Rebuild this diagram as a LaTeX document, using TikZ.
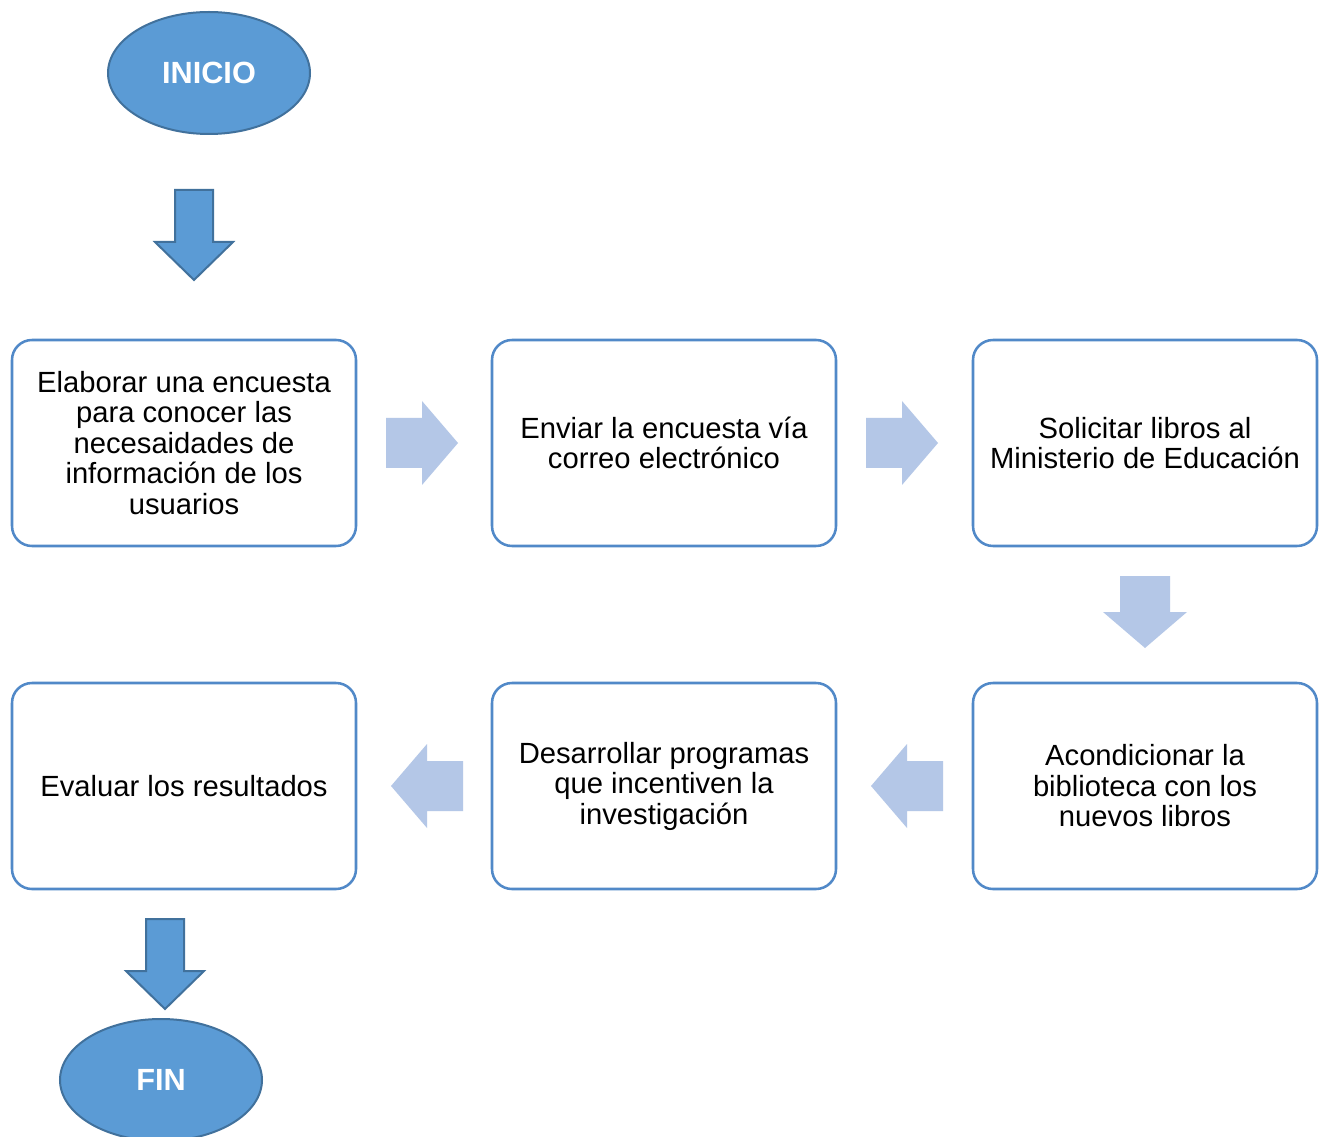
\documentclass[tikz,border=0pt]{standalone}
\usepackage{fontspec}
\setmainfont{Liberation Sans}
\usetikzlibrary{shapes.geometric}
\definecolor{boxblue}{HTML}{5189C8}
\definecolor{lightarr}{HTML}{B4C7E7}
\definecolor{darkfill}{HTML}{5B9BD5}
\definecolor{darkline}{HTML}{41719C}
\tikzset{
  stepbox/.style={draw=boxblue, line width=1.9pt, fill=white, rounded corners=15pt,
    minimum width=258pt, minimum height=154.5pt, inner sep=0pt, align=center,
    font=\fontsize{21.9}{22.9}\selectfont, text=black},
  terminal/.style={ellipse, draw=darkline, line width=1.5pt, fill=darkfill,
    minimum width=151.5pt, minimum height=91.5pt, inner sep=0pt,
    font=\fontsize{23}{26}\selectfont\bfseries, text=white},
  lightarrow/.style={fill=lightarr},
  darkarrow/.style={fill=darkfill, draw=darkline, line width=1.5pt, line join=miter},
  blockarr/.pic={\path[pic actions] (0,-25) -- (36,-25) -- (36,-42) -- (72,0) -- (36,42) -- (36,25) -- (0,25) -- cycle;},
  bigarr/.pic={\path[pic actions] (0,-19) -- (52,-19) -- (52,-39) -- (90,0) -- (52,39) -- (52,19) -- (0,19) -- cycle;}
}
\begin{document}
\begin{tikzpicture}[x=0.75pt,y=-0.75pt]
\clip (0,0) rectangle (1325,1137);
\fill[white] (0,0) rectangle (1325,1137);

\node[terminal] (inicio) at (209,73) {INICIO};
\node[terminal] (fin) at (161,1080) {FIN};

\node[stepbox] (b1) at (184,443) {Elaborar una encuesta\\para conocer las\\necesaidades de\\información de los\\usuarios};
\node[stepbox] (b2) at (664,443) {Enviar la encuesta vía\\correo electrónico};
\node[stepbox] (b3) at (1145,443) {Solicitar libros al\\Ministerio de Educación};
\node[stepbox] (b4) at (1145,786) {Acondicionar la\\biblioteca con los\\nuevos libros};
\node[stepbox] (b5) at (664,786) {Desarrollar programas\\que incentiven la\\investigación};
\node[stepbox] (b6) at (184,786) {Evaluar los resultados};

\pic[darkarrow, rotate=-90] (aIni) at (194,190) {bigarr};
\pic[darkarrow, rotate=-90] (aFin) at (165,919) {bigarr};

\pic[lightarrow] (a12) at (386,443) {blockarr};
\pic[lightarrow] (a23) at (866,443) {blockarr};
\pic[lightarrow, rotate=-90] (a34) at (1145,576) {blockarr};
\pic[lightarrow, rotate=180] (a45) at (943,786) {blockarr};
\pic[lightarrow, rotate=180] (a56) at (463,786) {blockarr};
\end{tikzpicture}
\end{document}
